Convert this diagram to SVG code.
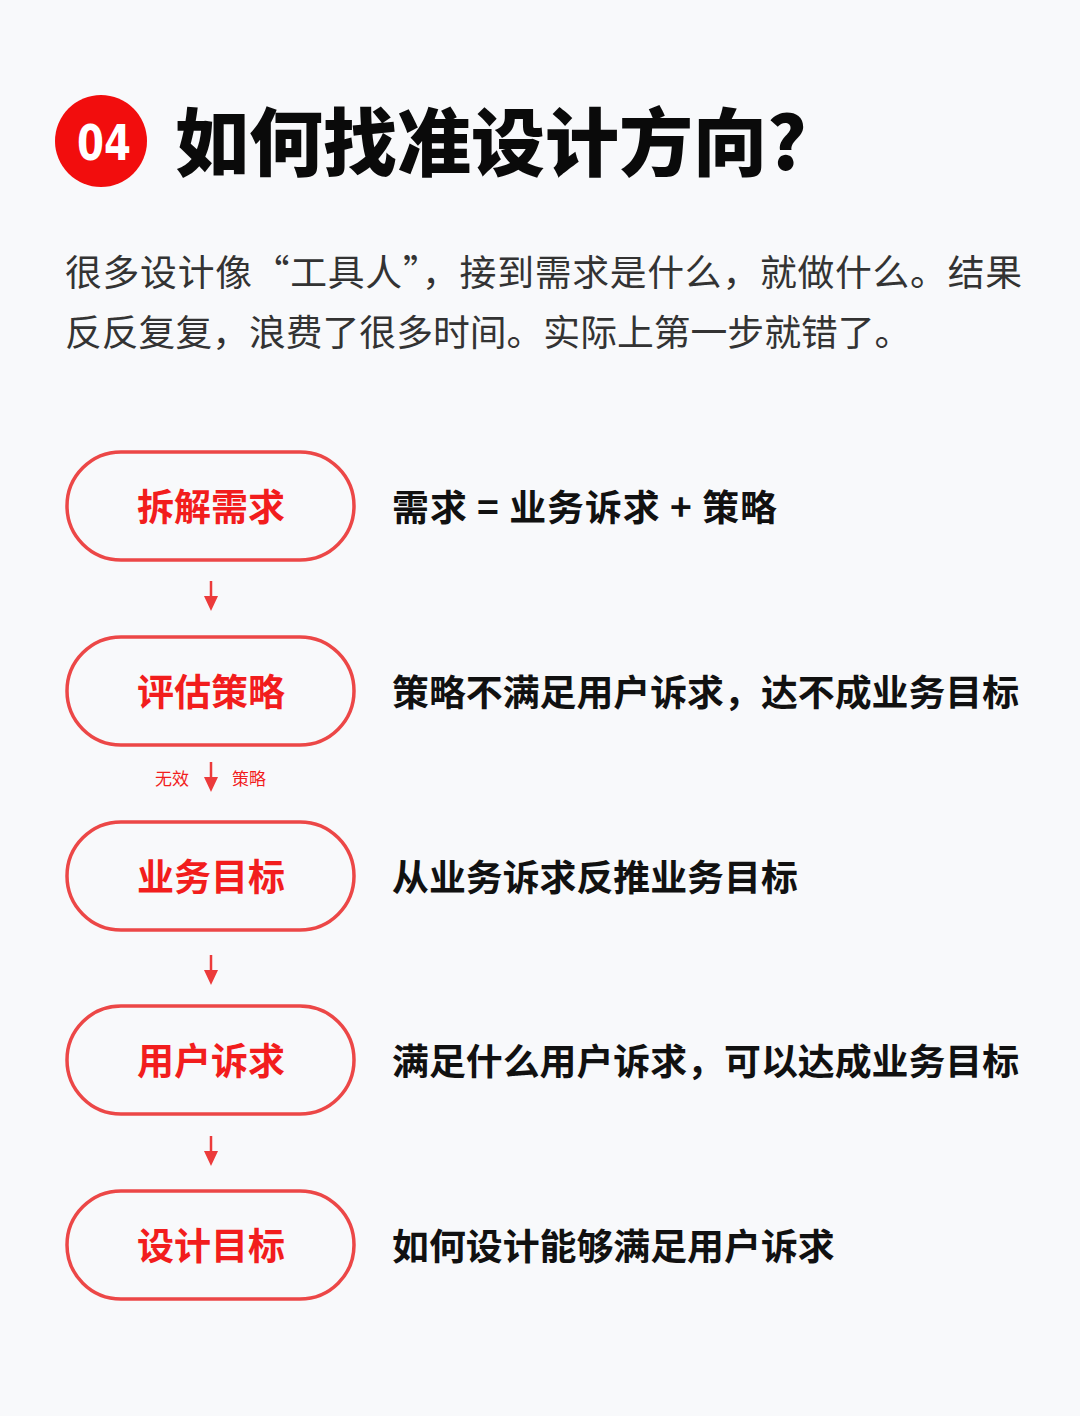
<svg xmlns="http://www.w3.org/2000/svg" width="1080" height="1416" viewBox="0 0 1080 1416">
<defs>
<style>
.pill{fill:#f8f9fb;stroke:#ec4747;stroke-width:3.5}
.pt{font-family:"Noto Sans CJK SC",sans-serif;font-weight:700;font-size:37px;fill:#f21d1d;text-anchor:middle}
.rt{font-family:"Noto Sans CJK SC",sans-serif;font-weight:700;font-size:36.9px;fill:#111}
.lb{font-family:"Noto Sans CJK SC",sans-serif;font-weight:400;font-size:17px;fill:#f21d1d}
.ar{stroke:#ec3b3b;stroke-width:2.5;fill:none}
.ah{fill:#ec3b3b}
</style>
</defs>
<rect width="1080" height="1416" fill="#f8f9fb"/>
<g id="header">
<circle cx="101" cy="141" r="46" fill="#f20d0d"/>
<text x="77" y="160" textLength="54" lengthAdjust="spacingAndGlyphs" font-family="DejaVu Sans Condensed, DejaVu Sans, sans-serif" font-weight="700" font-size="50" fill="#ffffff">04</text>
<text x="175" y="170" font-family="Noto Sans CJK SC, sans-serif" font-weight="900" font-size="74" fill="#0a0a0a">如何找准设计方向?</text>
</g>
<g id="intro" font-family="Noto Sans CJK SC, sans-serif" font-size="36.8" fill="#333333">
<text x="65" y="286" textLength="957" lengthAdjust="spacing">很多设计像“工具人”，接到需求是什么，就做什么。结果</text>
<text x="65" y="346">反反复复，浪费了很多时间。实际上第一步就错了。</text>
</g>
<g id="connectors">
<line class="ar" x1="211" y1="581" x2="211" y2="598"/>
<polygon class="ah" points="204,596 218,596 211,611"/>
<line class="ar" x1="211" y1="762" x2="211" y2="779"/>
<polygon class="ah" points="204,777 218,777 211,792"/>
<line class="ar" x1="211" y1="955" x2="211" y2="972"/>
<polygon class="ah" points="204,970 218,970 211,985"/>
<line class="ar" x1="211" y1="1136" x2="211" y2="1153"/>
<polygon class="ah" points="204,1151 218,1151 211,1166"/>
<text class="lb" x="155" y="785">无效</text>
<text class="lb" x="232" y="785">策略</text>
</g>
<g id="n1">
<rect class="pill" x="67" y="452" width="287" height="108" rx="54"/>
<text class="pt" x="211" y="521">拆解需求</text>
<text class="rt" x="392" y="521" textLength="385" lengthAdjust="spacing">需求 = 业务诉求 + 策略</text>
</g>
<g id="n2">
<rect class="pill" x="67" y="637" width="287" height="108" rx="54"/>
<text class="pt" x="211" y="706">评估策略</text>
<text class="rt" x="392" y="706">策略不满足用户诉求，达不成业务目标</text>
</g>
<g id="n3">
<rect class="pill" x="67" y="822" width="287" height="108" rx="54"/>
<text class="pt" x="211" y="891">业务目标</text>
<text class="rt" x="392" y="891">从业务诉求反推业务目标</text>
</g>
<g id="n4">
<rect class="pill" x="67" y="1006" width="287" height="108" rx="54"/>
<text class="pt" x="211" y="1075">用户诉求</text>
<text class="rt" x="392" y="1075">满足什么用户诉求，可以达成业务目标</text>
</g>
<g id="n5">
<rect class="pill" x="67" y="1191" width="287" height="108" rx="54"/>
<text class="pt" x="211" y="1260">设计目标</text>
<text class="rt" x="392" y="1260">如何设计能够满足用户诉求</text>
</g>
</svg>
